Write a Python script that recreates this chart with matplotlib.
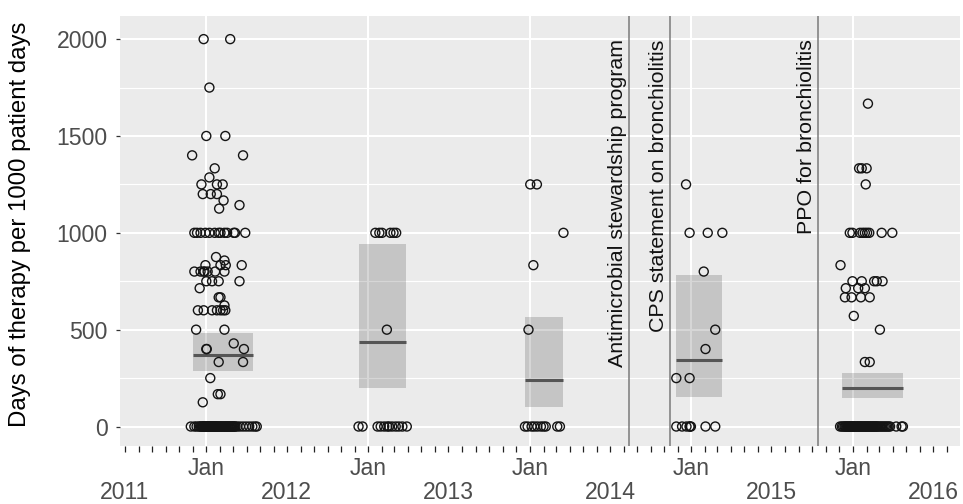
import matplotlib
matplotlib.use('Agg')
import matplotlib.pyplot as plt
import matplotlib.dates as mdates
from matplotlib.ticker import MultipleLocator
import numpy as np

plt.rcParams['font.family'] = ['Liberation Sans', 'DejaVu Sans']

# ---------------- data ----------------
season_jan = ['2012-01-01', '2013-01-01', '2014-01-01', '2015-01-01', '2016-01-01']

# non-zero observations: days relative to Jan 1 of each season, and values
s1_days = [-6, 54, 7, 0, 43, -32, 83, 19, 7, -11, 24, 37, -8, 10, 24, 39, 75, 29,
           -27, -21, -13, -2, 7, 19, 28, 32, 41, 47, 62, 65, 88,
           22, 41, 32, 44, 80, -2,
           -27, -13, -6, -4, 3, 20, 41,
           0, 13, 28, 75,
           -15, 28, 32, 41,
           -19, -6, 13, 24, 32, 38, 43,
           -23, 41, 62, 85, 0, 1, 28, 83, 9, 26, 32, -8]
s1_vals = [2000, 2000, 1750, 1500, 1500, 1400, 1400, 1333, 1286, 1250, 1250, 1250, 1200, 1200, 1200, 1167, 1143, 1125,
           1000, 1000, 1000, 1000, 1000, 1000, 1000, 1000, 1000, 1000, 1000, 1000, 1000,
           875, 857, 833, 833, 833, 833,
           800, 800, 800, 800, 800, 800, 800,
           750, 750, 750, 750,
           714, 667, 667, 625,
           600, 600, 600, 600, 600, 600, 600,
           500, 500, 429, 400, 400, 400, 333, 333, 250, 167, 167, 125]
# zero-value observations (days relative to Jan 1)
s1_zero_days = [-35, -27, -22, -17, -14, -12, -10, -8, -6, -4, -3, -2, -1, 0, 1, 2, 3, 4, 5, 6,
                7, 8, 9, 10, 11, 12, 13, 14, 15, 16, 17, 18, 19, 20, 21, 22, 24, 26, 28, 30,
                32, 34, 36, 38, 40, 42, 44, 46, 48, 50, 52, 54, 56, 58, 60, 62, 64, 66, 70, 76,
                83, 90, 97, 104, 110, 114]

s2_days = [16, 25, 31, 50, 57, 63, 42]
s2_vals = [1000, 1000, 1000, 1000, 1000, 1000, 500]
s2_zero_days = [-22, -13, 21, 28, 36, 43, 47, 54, 62, 69, 77, 87]

s3_days = [1, 16, 76, 8, -3]
s3_vals = [1250, 1250, 1000, 833, 500]
s3_zero_days = [-11, -5, 4, 10, 17, 25, 31, 36, 62, 68]

s4_days = [-12, -4, 37, 70, 28, 54, 32, -34, -4]
s4_vals = [1250, 1000, 1000, 1000, 800, 500, 400, 250, 250]
s4_zero_days = [-34, -21, -11, -4, -3, -1, 32, 54]

s5_days = [34, 14, 20, 31, 29,
           -7, -1, 16, 22, 27, 32, 37, 65, 89,
           -28, -1, 20, 48, 54, 67, -16, 12, 27, -18, -3, 18, 38,
           2, 61, 27, 38]
s5_vals = [1667, 1333, 1333, 1333, 1250,
           1000, 1000, 1000, 1000, 1000, 1000, 1000, 1000, 1000,
           833, 750, 750, 750, 750, 750, 714, 714, 714, 667, 667, 667, 667,
           571, 500, 333, 333]
s5_zero_days = [-29, -25, -22, -19, -17, -15, -13, -11, -9, -7, -5, -3, -1, 0, 1, 3, 5, 7,
                9, 11, 13, 15, 17, 19, 21, 23, 25, 27, 29, 31, 33, 35, 37, 39, 41, 43, 45,
                47, 49, 51, 53, 55, 57, 60, 63, 66, 69, 72, 75, 78, 81, 84, 98, 110, 113]

season_days = [s1_days, s2_days, s3_days, s4_days, s5_days]
season_vals = [s1_vals, s2_vals, s3_vals, s4_vals, s5_vals]
season_zero_days = [s1_zero_days, s2_zero_days, s3_zero_days, s4_zero_days, s5_zero_days]

# summary bands: start/end date, lower, median, upper
band_start = ['2011-12-01', '2012-12-11', '2013-12-21', '2014-11-27', '2015-12-07']
band_end = ['2012-04-16', '2013-03-27', '2014-03-17', '2015-03-11', '2016-04-23']
band_lo = [288, 198, 102, 150, 147]
band_med = [370, 434, 241, 341, 201]
band_hi = [484, 942, 563, 783, 276]

event_dates = ['2014-08-13', '2014-11-14', '2015-10-14']
event_labels = ['Antimicrobial stewardship program', 'CPS statement on bronchiolitis',
                'PPO for bronchiolitis']

year_labels = ['2011', '2012', '2013', '2014', '2015', '2016']
year_label_dates = ['2011-07-01', '2012-07-01', '2013-07-01', '2014-07-01', '2015-07-01', '2016-07-01']

y_label = 'Days of therapy per 1000 patient days'


def d2n(s):
    return mdates.date2num(np.datetime64(s))


# ---------------- figure ----------------
fig = plt.figure(figsize=(9.63, 5.04), dpi=100)
ax = fig.add_axes([120 / 963, (504 - 445.5) / 504, 840 / 963, 430 / 504])
ax.set_facecolor('#EBEBEB')
for sp in ax.spines.values():
    sp.set_visible(False)

# bands and medians
for s, e, lo, med, hi in zip(band_start, band_end, band_lo, band_med, band_hi):
    xs = [d2n(s), d2n(e)]
    ax.fill_between(xs, [lo, lo], [hi, hi], color='black', alpha=0.16, lw=0, zorder=2)
    ax.plot(xs, [med, med], color='#555555', lw=2.2, solid_capstyle='butt', zorder=2.5)

# points
for jan, days, vals, zdays in zip(season_jan, season_days, season_vals, season_zero_days):
    all_days = list(days) + list(zdays)
    all_vals = list(vals) + [0] * len(zdays)
    x = mdates.date2num(np.datetime64(jan) + np.array(all_days, dtype='timedelta64[D]'))
    ax.scatter(x, all_vals, s=42, facecolors='none', edgecolors='#141414', linewidths=1.0, zorder=3)

# events
for d, lab in zip(event_dates, event_labels):
    x = d2n(d)
    ax.axvline(x, color='#7a7a7a', lw=1.1, zorder=2)
    ax.annotate(lab, xy=(x, 2000), xytext=(-1.2, 0), textcoords='offset points',
                rotation=90, rotation_mode='anchor', ha='right', va='bottom',
                fontsize=15.4, color='#111111', zorder=4)

# axes limits
ax.set_xlim(d2n('2011-06-20'), d2n('2016-08-30'))
ax.set_ylim(-98, 2122)

# ticks
ax.xaxis.set_major_locator(mdates.YearLocator(base=1, month=1, day=1))
ax.xaxis.set_major_formatter(mdates.DateFormatter('%b'))
ax.xaxis.set_minor_locator(mdates.MonthLocator())
ax.yaxis.set_major_locator(MultipleLocator(500))
ax.yaxis.set_minor_locator(MultipleLocator(250))

ax.tick_params(axis='x', which='both', length=4.5, width=0.9, color='#222222',
               labelsize=16.6, labelcolor='#4D4D4D', pad=4)
ax.tick_params(axis='y', which='major', length=2.9, width=0.9, color='#333333',
               labelsize=16.6, labelcolor='#4D4D4D', pad=6)
ax.tick_params(axis='y', which='minor', length=0)

ax.set_axisbelow(True)
ax.grid(which='major', axis='both', color='white', lw=1.5)
ax.grid(which='minor', axis='y', color='white', lw=0.8)

for d, lab in zip(year_label_dates, year_labels):
    ax.annotate(lab, xy=(d2n(d), 0), xycoords=('data', 'axes fraction'),
                xytext=(0, -25.3), textcoords='offset points', ha='center', va='top',
                fontsize=16.6, color='#4D4D4D', annotation_clip=False)

fig.text(20.5 / 963, (504 - 224) / 504, y_label, rotation=90, ha='center', va='center',
         fontsize=17.3, color='black')

fig.savefig('out.png', dpi=100, facecolor='white')
